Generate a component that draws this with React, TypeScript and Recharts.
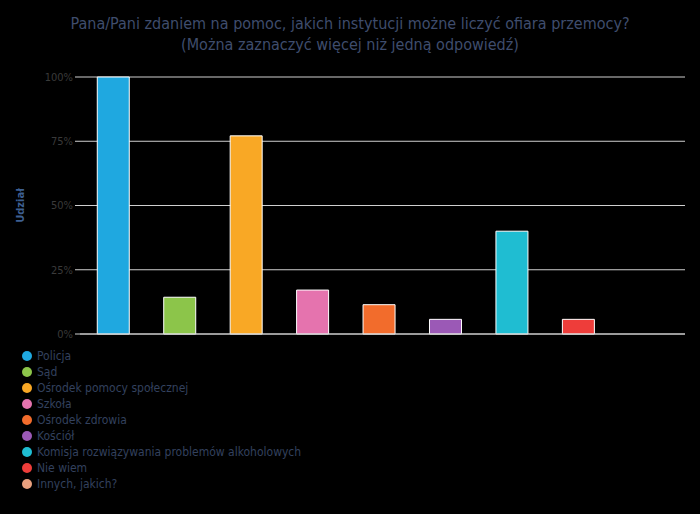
import { Bar, BarChart, CartesianGrid, Cell, Label, XAxis, YAxis } from 'recharts'

const CATEGORIES = [
  'Policja',
  'Sąd',
  'Ośrodek pomocy społecznej',
  'Szkoła',
  'Ośrodek zdrowia',
  'Kościół',
  'Komisja rozwiązywania problemów alkoholowych',
  'Nie wiem',
  'Innych, jakich?',
]
const SHARES = [100, 14.3, 77.1, 17.1, 11.4, 5.7, 40, 5.7, 0]
const Y_TICKS = [0, 25, 50, 75, 100]
const COLORS = ['#1fa8e0', '#8cc54a', '#f9a825', '#e573ae', '#f26c2c', '#9b59b6', '#1fbdd2', '#ee3d3a', '#e9a07e']

const FONT = '"DejaVu Sans Condensed", "DejaVu Sans", sans-serif'

const data = CATEGORIES.map((name, i) => ({ name, value: SHARES[i] }))

function LegendList() {
  return (
    <div
      style={{
        position: 'absolute',
        left: 22,
        top: 348,
        fontFamily: FONT,
        fontSize: 12,
        color: '#33415e',
      }}
    >
      {CATEGORIES.map((name, i) => (
        <div key={name} style={{ display: 'flex', alignItems: 'center', height: 16 }}>
          <span
            style={{
              width: 10,
              height: 10,
              borderRadius: 5,
              background: COLORS[i],
              marginRight: 5,
              display: 'inline-block',
            }}
          />
          <span>{name}</span>
        </div>
      ))}
    </div>
  )
}

export default function App() {
  return (
    <div style={{ position: 'absolute', left: 0, top: 0, width: 700, height: 514, background: '#000', fontFamily: FONT }}>
      <div
        style={{
          position: 'absolute',
          top: 13,
          left: 0,
          width: 700,
          textAlign: 'center',
          color: '#3f4d6d',
          fontSize: 16,
          lineHeight: '21px',
        }}
      >
        <div>Pana/Pani zdaniem na pomoc, jakich instytucji możne liczyć ofiara przemocy?</div>
        <div>(Można zaznaczyć więcej niż jedną odpowiedź)</div>
      </div>
      <BarChart
        width={700}
        height={514}
        data={data}
        margin={{ top: 77, right: 15, bottom: 160, left: 0 }}
        barCategoryGap="26%"
      >
        <CartesianGrid vertical={false} stroke="#cfcfcf" strokeWidth={1} />
        <XAxis
          dataKey="name"
          tick={false}
          tickLine={{ stroke: '#cfcfcf' }}
          tickSize={5}
          axisLine={{ stroke: '#cfcfcf' }}
          padding={{ left: 0, right: 7 }}
          height={20}
        />
        <YAxis
          width={80}
          domain={[0, 100]}
          ticks={Y_TICKS}
          tickFormatter={(v) => `${v}%`}
          tick={{ fill: '#3a3a3a', fontSize: 11, fontFamily: FONT }}
          tickLine={{ stroke: '#cfcfcf' }}
          tickSize={5}
          axisLine={false}
        >
          <Label
            value="Udział"
            angle={-90}
            position="insideLeft"
            offset={20}
            style={{ fill: '#3d5f91', fontSize: 11, fontWeight: 'bold', fontFamily: FONT, textAnchor: 'middle' }}
          />
        </YAxis>
        <Bar dataKey="value" stroke="#ffffff" strokeWidth={1} isAnimationActive={false}>
          {data.map((entry, i) => (
            <Cell key={entry.name} fill={COLORS[i]} />
          ))}
        </Bar>
      </BarChart>
      <LegendList />
    </div>
  )
}
